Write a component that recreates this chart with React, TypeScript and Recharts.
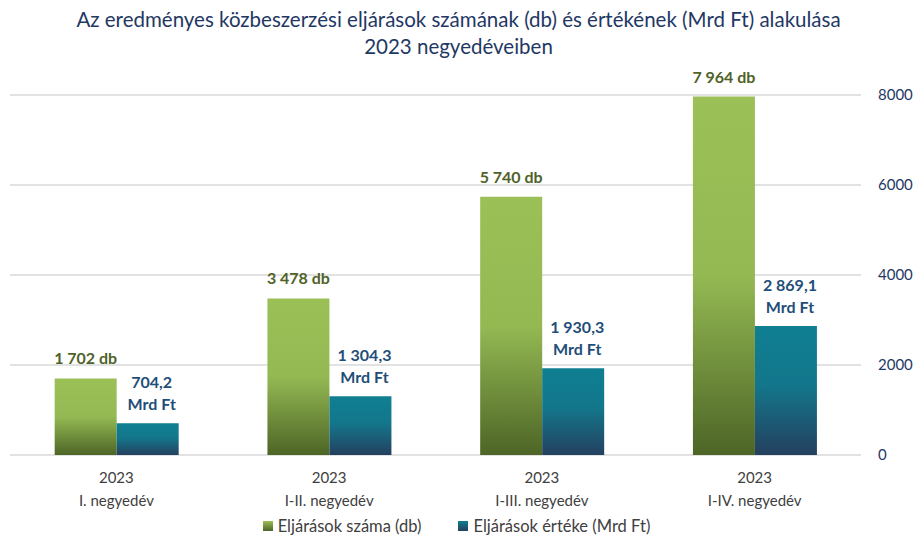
import { BarChart, Bar, XAxis, YAxis, CartesianGrid, Legend, LabelList } from 'recharts';

const years = ['2023', '2023', '2023', '2023'];
const periods = ['I. negyedév', 'I-II. negyedév', 'I-III. negyedév', 'I-IV. negyedév'];
const counts = [1702, 3478, 5740, 7964];
const values = [704.2, 1304.3, 1930.3, 2869.1];
const yTicks = [0, 2000, 4000, 6000, 8000];

const FONT = 'Lato, "Open Sans", sans-serif';
const TITLE = '#1F3864';
const GREEN_TXT = '#4F6228';
const TEAL_TXT = '#1F4E79';
const AXIS_TXT = '#404040';

const data = periods.map((p, i) => ({
  year: years[i],
  period: p,
  key: `${years[i]} ${p}`,
  darab: counts[i],
  ertek: values[i],
}));

const groupThousands = (s: string) => s.replace(/\B(?=(\d{3})+(?!\d))/g, ' ');
const fmtDb = (v: number) => `${groupThousands(String(Math.round(v)))} db`;
const fmtMrd = (v: number) => {
  const [int, dec] = v.toFixed(1).split('.');
  return `${groupThousands(int)},${dec}`;
};

function CatTick(props: any) {
  const { x, y, payload } = props;
  const row = data.find((d) => d.key === payload.value);
  return (
    <g transform={`translate(${x},${y})`}>
      <text textAnchor="middle" fill={AXIS_TXT} fontSize={15} fontFamily={FONT}>
        <tspan x={0} dy={20}>{row?.year}</tspan>
        <tspan x={0} dy={23}>{row?.period}</tspan>
      </text>
    </g>
  );
}

function CountLabel(props: any) {
  const { x, y, width, value } = props;
  return (
    <text x={x + width / 2} y={y - 14} textAnchor="middle" fill={GREEN_TXT} fontSize={16} fontWeight={700} fontFamily={FONT}>
      {fmtDb(value)}
    </text>
  );
}

function ValueLabel(props: any) {
  const { x, y, width, value } = props;
  const cx = x + width / 2 + 4;
  return (
    <text textAnchor="middle" fill={TEAL_TXT} fontSize={16} fontWeight={700} fontFamily={FONT}>
      <tspan x={cx} y={y - 35}>{fmtMrd(value)}</tspan>
      <tspan x={cx} y={y - 13}>Mrd Ft</tspan>
    </text>
  );
}

function LegendBox() {
  const items = [
    { label: 'Eljárások száma (db)', from: '#9BC057', to: '#4D6526' },
    { label: 'Eljárások értéke (Mrd Ft)', from: '#0F7F91', to: '#24405F' },
  ];
  return (
    <div style={{ height: 30, boxSizing: 'border-box', paddingTop: 7, paddingRight: 14, display: 'flex', justifyContent: 'center', alignItems: 'center', gap: 37 }}>
      {items.map((it) => (
        <div key={it.label} style={{ display: 'flex', alignItems: 'center', fontFamily: FONT, fontSize: 16.5, color: AXIS_TXT }}>
          <span style={{ width: 10, height: 10, marginRight: 5, background: `linear-gradient(${it.from}, ${it.to})` }} />
          {it.label}
        </div>
      ))}
    </div>
  );
}

export default function App() {
  return (
    <div style={{ position: 'absolute', left: 0, top: 0, width: 917, height: 537, background: '#fff' }}>
      <div
        style={{
          position: 'absolute',
          top: 6,
          left: 0,
          width: 917,
          textAlign: 'center',
          fontFamily: FONT,
          fontSize: 20.5,
          lineHeight: '27px',
          color: TITLE,
        }}
      >
        Az eredményes közbeszerzési eljárások számának (db) és értékének (Mrd Ft) alakulása
        <br />
        2023 negyedéveiben
      </div>
      <BarChart
        width={917}
        height={537}
        data={data}
        margin={{ top: 95, right: 0, bottom: 0, left: 10 }}
        barCategoryGap="21%"
        barGap={0}
      >
        <defs>
          <linearGradient id="gGreen" x1="0" y1="0" x2="0" y2="1">
            <stop offset="0%" stopColor="#9BC057" />
            <stop offset="50%" stopColor="#94B953" />
            <stop offset="100%" stopColor="#4D6526" />
          </linearGradient>
          <linearGradient id="gTeal" x1="0" y1="0" x2="0" y2="1">
            <stop offset="0%" stopColor="#0F7F91" />
            <stop offset="45%" stopColor="#13778C" />
            <stop offset="100%" stopColor="#24405F" />
          </linearGradient>
        </defs>
        <CartesianGrid vertical={false} stroke="#D9D9D9" strokeWidth={1.5} />
        <XAxis dataKey="key" axisLine={false} tickLine={false} height={52} tick={<CatTick />} interval={0} />
        <YAxis
          orientation="right"
          width={56}
          domain={[0, 8000]}
          ticks={yTicks}
          axisLine={false}
          tickLine={false}
          tickMargin={11}
          tick={{ fill: TITLE, fontSize: 15, fontFamily: FONT }}
        />
        <Legend verticalAlign="bottom" height={30} content={<LegendBox />} />
        <Bar dataKey="darab" name="Eljárások száma (db)" fill="url(#gGreen)" isAnimationActive={false}>
          <LabelList dataKey="darab" content={<CountLabel />} />
        </Bar>
        <Bar dataKey="ertek" name="Eljárások értéke (Mrd Ft)" fill="url(#gTeal)" isAnimationActive={false}>
          <LabelList dataKey="ertek" content={<ValueLabel />} />
        </Bar>
      </BarChart>
    </div>
  );
}
